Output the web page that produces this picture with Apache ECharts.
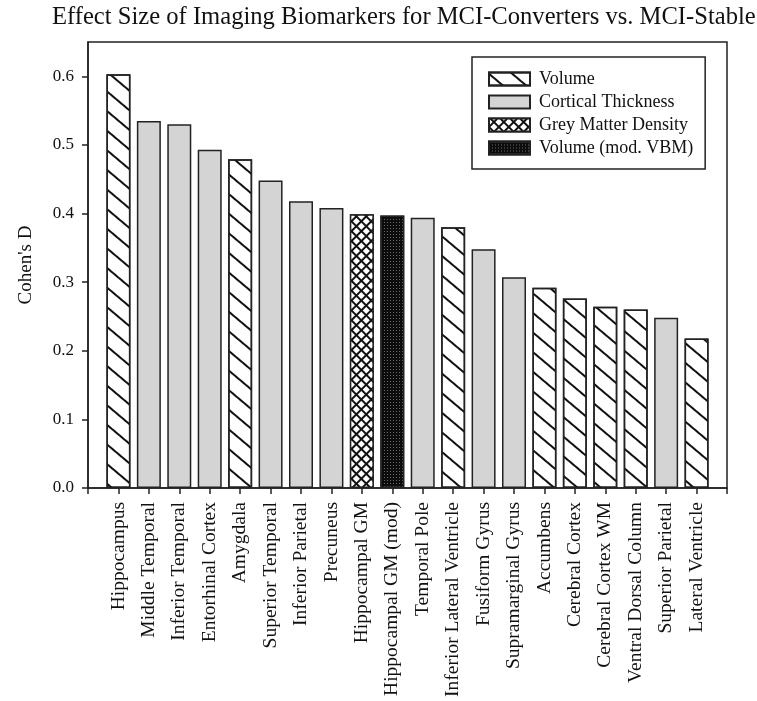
<!DOCTYPE html>
<html>
<head>
<meta charset="utf-8">
<script src="https://cdn.jsdelivr.net/npm/echarts@6/dist/echarts.min.js"></script>
<style>
  html, body { margin: 0; padding: 0; background: #fff; }
  #chart { width: 757px; height: 701px; }
</style>
</head>
<body>
<div id="chart"></div>
<script>
// brain regions, in plotted order
const regions = [
  'Hippocampus', 'Middle Temporal', 'Inferior Temporal', 'Entorhinal Cortex',
  'Amygdala', 'Superior Temporal', 'Inferior Parietal', 'Precuneus',
  'Hippocampal GM', 'Hippocampal GM (mod)', 'Temporal Pole',
  'Inferior Lateral Ventricle', 'Fusiform Gyrus', 'Supramarginal Gyrus',
  'Accumbens', 'Cerebral Cortex', 'Cerebral Cortex WM',
  'Ventral Dorsal Column', 'Superior Parietal', 'Lateral Ventricle'
];
// Cohen's D per region
const effectSizes = [
  0.603, 0.535, 0.530, 0.493, 0.479, 0.448, 0.418, 0.408, 0.399, 0.397,
  0.394, 0.380, 0.348, 0.307, 0.292, 0.276, 0.264, 0.260, 0.248, 0.218
];
// measure type per region
const measureTypes = [
  'Volume', 'Cortical Thickness', 'Cortical Thickness', 'Cortical Thickness',
  'Volume', 'Cortical Thickness', 'Cortical Thickness', 'Cortical Thickness',
  'Grey Matter Density', 'Volume (mod. VBM)', 'Cortical Thickness',
  'Volume', 'Cortical Thickness', 'Cortical Thickness',
  'Volume', 'Volume', 'Volume', 'Volume', 'Cortical Thickness', 'Volume'
];
const legendNames = ['Volume', 'Cortical Thickness', 'Grey Matter Density', 'Volume (mod. VBM)'];
const yTicks = [0, 0.1, 0.2, 0.3, 0.4, 0.5, 0.6];

const serif = '"Liberation Serif", "DejaVu Serif", serif';

// fill style for each measure type (hatching via decals)
const fills = {
  'Volume': {
    color: '#fff',
    decal: { symbol: 'rect', symbolSize: 1, color: '#111', dashArrayX: [1, 0], dashArrayY: [1.6, 13], rotation: 0.7 }
  },
  'Cortical Thickness': { color: '#d4d4d4' },
  'Grey Matter Density': {
    color: '#111',
    decal: { symbol: 'rect', symbolSize: 1, color: '#fff', dashArrayX: [5, 1.4], dashArrayY: [5, 1.4], rotation: Math.PI / 4 }
  },
  'Volume (mod. VBM)': {
    color: '#0c0c0c',
    decal: { symbol: 'rect', symbolSize: 1, color: '#6a6a6a', dashArrayX: [1, 2], dashArrayY: [1, 2], rotation: 0 }
  }
};

// pad half a band on each side of the category axis
const axisCats = [''].concat(regions, ['']);

const series = legendNames.map(function (name) {
  const data = regions.map(function (r, i) {
    return measureTypes[i] === name ? effectSizes[i] : '-';
  });
  const itemStyle = { color: fills[name].color, borderColor: '#222', borderWidth: 1.5 };
  if (fills[name].decal) itemStyle.decal = fills[name].decal;
  return {
    name: name,
    type: 'bar',
    barWidth: 24,
    barGap: '-100%',
    data: ['-'].concat(data, ['-']),
    itemStyle: itemStyle,
    emphasis: { disabled: true }
  };
});

const chart = echarts.init(document.getElementById('chart'));
chart.setOption({
  animation: false,
  backgroundColor: '#fff',
  title: {
    text: 'Effect Size of Imaging Biomarkers for MCI-Converters vs. MCI-Stable',
    left: 52,
    top: 5,
    padding: 0,
    textStyle: { fontFamily: serif, fontSize: 24.6, fontWeight: 'normal', color: '#111' }
  },
  legend: {
    data: legendNames,
    orient: 'vertical',
    left: 472,
    top: 57,
    padding: [13, 12, 12, 16],
    itemWidth: 41,
    itemHeight: 13,
    itemGap: 5,
    icon: 'rect',
    borderColor: '#222',
    borderWidth: 1.5,
    textStyle: { fontFamily: serif, fontSize: 18, color: '#111', padding: [0, 0, 0, 4] }
  },
  grid: {
    left: 88, right: 30, top: 42, bottom: 213,
    show: true, borderColor: '#222', borderWidth: 1.5
  },
  xAxis: {
    type: 'category',
    data: axisCats,
    boundaryGap: false,
    axisLine: { lineStyle: { color: '#222', width: 1.5 } },
    axisTick: { show: true, length: 6, lineStyle: { color: '#222', width: 1.5 } },
    axisLabel: { interval: 0, rotate: 90, margin: 14, fontFamily: serif, fontSize: 19.5, color: '#111' }
  },
  yAxis: {
    type: 'value',
    min: 0,
    max: 0.65,
    name: "Cohen's D",
    nameLocation: 'middle',
    nameGap: 52,
    nameTextStyle: { fontFamily: serif, fontSize: 19, color: '#111' },
    splitLine: { show: false },
    axisLine: { show: true, lineStyle: { color: '#222', width: 1.5 } },
    axisTick: { show: true, length: 6, customValues: yTicks, lineStyle: { color: '#222', width: 1.5 } },
    axisLabel: {
      customValues: yTicks, margin: 14, fontFamily: serif, fontSize: 17, color: '#111',
      formatter: function (v) { return v.toFixed(1); }
    }
  },
  series: series
});
</script>
</body>
</html>
